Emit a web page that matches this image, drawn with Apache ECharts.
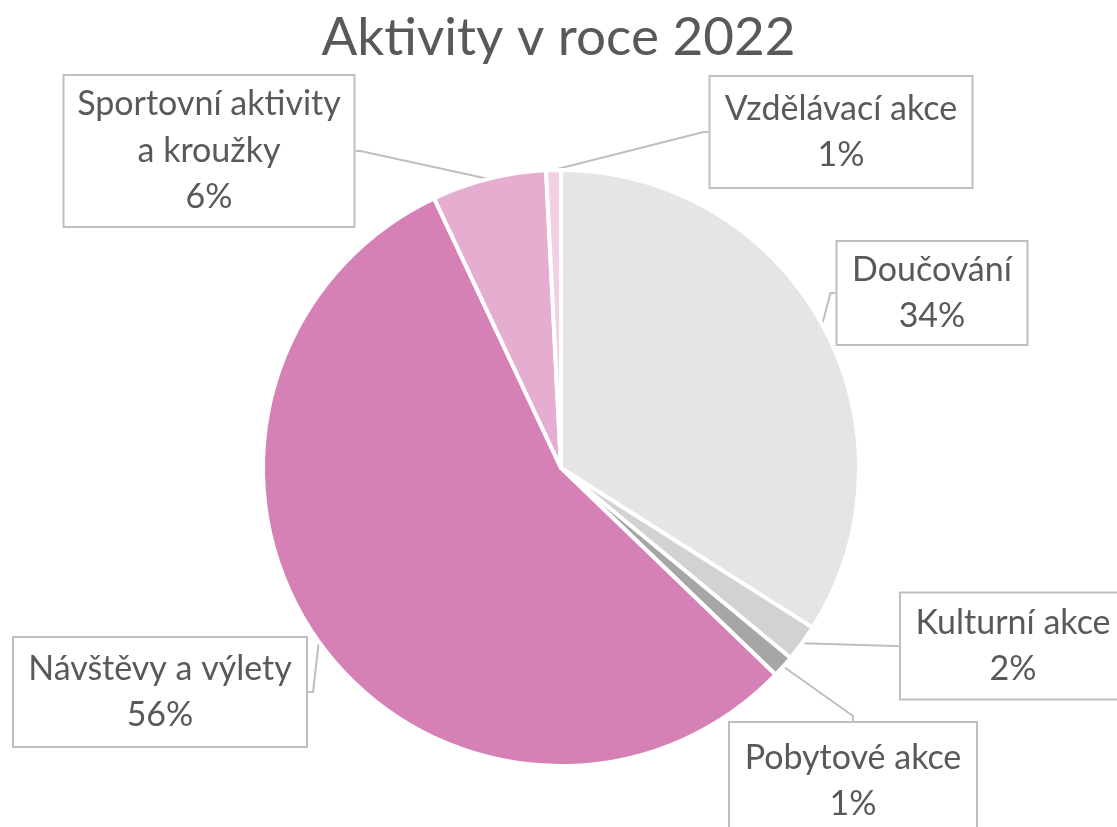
<!DOCTYPE html>
<html><head><meta charset="utf-8">
<script src="https://cdn.jsdelivr.net/npm/echarts@6/dist/echarts.min.js"></script>
<style>html,body{margin:0;padding:0;background:#fff}#c{width:1117px;height:827px}</style>
</head><body><div id="c"></div>
<script>
var categories = ["Doučování", "Kulturní akce", "Pobytové akce", "Návštěvy a výlety", "Sportovní aktivity\na kroužky", "Vzdělávací akce"];
var values = [34, 2, 1.2, 55.8, 6.2, 0.8];
var colors = ["#e6e4e6", "#d3d2d3", "#a6a6a6", "#d581b6", "#e5aed0", "#f2d0e3"];

// label box layout: center x, center y, width, height
var boxes = [
  [932, 293, 193, 102],
  [1013, 646, 228, 105],
  [853, 781, 250, 116],
  [160, 692, 296, 108],
  [209, 151, 293, 150],
  [841, 132, 265, 110]
];
var LH = 46.5;

var chart = echarts.init(document.getElementById('c'));
var data = categories.map(function (n, i) {
  var lines = n.split('\n').length + 1;
  var b = boxes[i];
  var padV = (b[3] - lines * LH) / 2;
  return {
    name: n, value: values[i],
    itemStyle: { color: colors[i] },
    label: { width: b[2] - 4, padding: [padV, 0, padV, 0] }
  };
});
chart.setOption({
  animation: false,
  title: {
    text: 'Aktivity v roce 2022', left: 'center', top: 6,
    textStyle: { fontFamily: 'Lato', fontSize: 53, fontWeight: 'normal', color: '#595959' }
  },
  series: [{
    type: 'pie',
    center: [561, 468],
    radius: 298,
    startAngle: 90,
    clockwise: true,
    percentPrecision: 0,
    itemStyle: { borderColor: '#fff', borderWidth: 4 },
    label: {
      show: true, position: 'outside',
      formatter: '{b}\n{d}%',
      fontFamily: 'Lato', fontSize: 34, lineHeight: LH, color: '#595959',
      align: 'center',
      backgroundColor: '#fff', borderColor: '#bfbfbf', borderWidth: 2
    },
    labelLine: { show: true, length: 10, length2: 5, lineStyle: { color: '#bfbfbf', width: 2 } },
    labelLayout: function (p) {
      var b = boxes[p.dataIndex];
      return { x: b[0], y: b[1], align: 'center', verticalAlign: 'middle', hideOverlap: false, moveOverlap: null };
    },
    emphasis: { disabled: true },
    data: data
  }]
});
</script></body></html>
